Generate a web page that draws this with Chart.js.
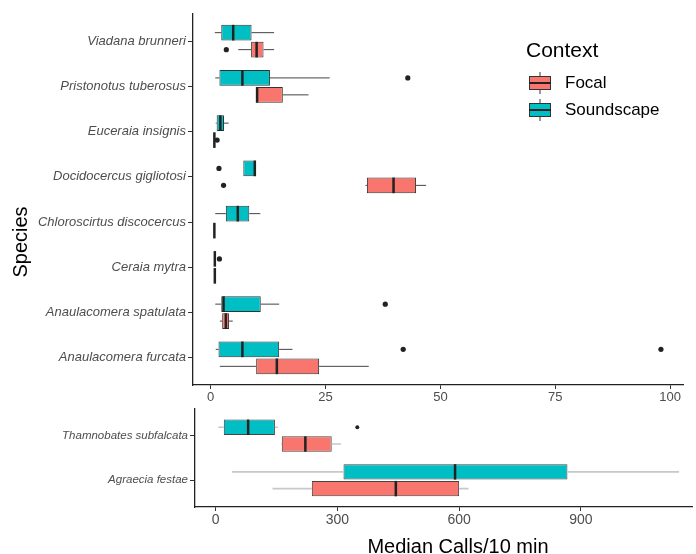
<!DOCTYPE html>
<html>
<head>
<meta charset="utf-8">
<script src="https://cdn.jsdelivr.net/npm/chart.js@4.4.1/dist/chart.umd.min.js"></script>
<style>
html, body { margin: 0; padding: 0; background: #fff; }
#wrap { position: relative; width: 696px; height: 554px; overflow: hidden; }
#topChart { position: absolute; left: 0; top: 0; }
#bottomChart { position: absolute; left: 0; top: 400px; }
</style>
</head>
<body>
<div id="wrap">
  <canvas id="topChart" width="696" height="405"></canvas>
  <canvas id="bottomChart" width="696" height="154"></canvas>
</div>
<script>
// Couleurs ggplot
const colors = {
    focal: '#F8766D',
    sound: '#00BFC4',
    ink: '#222222',
    label: '#4d4d4d'
};

// Panneau du haut
const topSpecies = ['Viadana brunneri', 'Pristonotus tuberosus', 'Euceraia insignis', 'Docidocercus gigliotosi',
    'Chloroscirtus discocercus', 'Ceraia mytra', 'Anaulacomera spatulata', 'Anaulacomera furcata'];
const topTicks = [0, 25, 50, 75, 100];

const topSoundLow = [0.9, 1.0, 1.1, 7.1, 1.0, 0.9, 1.0, 1.1];
const topSoundQ1 = [2.3, 1.9, 1.3, 7.1, 3.3, 0.9, 2.3, 1.7];
const topSoundMed = [4.9, 6.9, 2.1, 9.6, 5.9, 0.9, 2.8, 6.9];
const topSoundQ3 = [8.9, 12.9, 2.9, 9.9, 8.4, 0.9, 10.9, 14.9];
const topSoundHigh = [13.8, 25.9, 3.9, 9.9, 10.8, 0.9, 14.9, 17.8];
const topSoundOut = [[], [42.9], [], [1.8], [], [1.9], [38.0], [41.9, 98.0]];

const topFocalLow = [6.0, 9.9, 0.8, 33.7, 0.8, 0.9, 2.0, 2.0];
const topFocalQ1 = [8.8, 9.9, 0.8, 34.0, 0.8, 0.9, 2.5, 9.9];
const topFocalMed = [10.0, 10.1, 0.8, 39.8, 0.8, 0.9, 3.3, 14.4];
const topFocalQ3 = [11.5, 15.7, 0.8, 44.7, 0.8, 0.9, 4.0, 23.6];
const topFocalHigh = [13.8, 21.3, 0.8, 46.9, 0.8, 0.9, 4.8, 34.4];
const topFocalOut = [[3.4], [], [1.4], [2.8], [], [], [], []];

// Panneau du bas
const bottomSpecies = ['Thamnobates subfalcata', 'Agraecia festae'];
const bottomTicks = [0, 300, 600, 900];

const bottomSoundLow = [6, 40];
const bottomSoundQ1 = [20, 315];
const bottomSoundMed = [80, 590];
const bottomSoundQ3 = [146, 867];
const bottomSoundHigh = [153, 1142];
const bottomSoundOut = [[349], []];

const bottomFocalLow = [161, 140];
const bottomFocalQ1 = [163, 237];
const bottomFocalMed = [221, 444];
const bottomFocalQ3 = [286, 600];
const bottomFocalHigh = [309, 623];
const bottomFocalOut = [[], []];

Chart.defaults.font.family = "'Liberation Sans', Arial, sans-serif";

// Moustaches, médianes et points extrêmes
const boxPlotPlugin = {
    id: 'boxPlot',
    afterDatasetsDraw(chart, args, opts) {
        const ctx = chart.ctx;
        const xs = chart.scales.x;
        chart.data.datasets.forEach((ds, di) => {
            const meta = chart.getDatasetMeta(di);
            meta.data.forEach((bar, i) => {
                const yc = bar.y;
                const h = bar.height;
                const q1 = xs.getPixelForValue(ds.q1[i]);
                const q3 = xs.getPixelForValue(ds.q3[i]);
                const lo = xs.getPixelForValue(ds.low[i]);
                const hi = xs.getPixelForValue(ds.high[i]);
                const med = xs.getPixelForValue(ds.med[i]);
                ctx.save();
                ctx.strokeStyle = opts.whiskerColor;
                ctx.lineWidth = opts.whiskerWidth;
                ctx.beginPath();
                if (lo < q1) { ctx.moveTo(lo, yc); ctx.lineTo(q1, yc); }
                if (hi > q3) { ctx.moveTo(q3, yc); ctx.lineTo(hi, yc); }
                ctx.stroke();
                ctx.strokeStyle = colors.ink;
                ctx.lineWidth = 2.5;
                ctx.beginPath();
                ctx.moveTo(med, yc - h / 2);
                ctx.lineTo(med, yc + h / 2);
                ctx.stroke();
                ctx.fillStyle = colors.ink;
                ds.out[i].forEach(v => {
                    ctx.beginPath();
                    ctx.arc(xs.getPixelForValue(v), yc, opts.pointRadius, 0, Math.PI * 2);
                    ctx.fill();
                });
                ctx.restore();
            });
        });
    }
};

// Légende et titres
const decorPlugin = {
    id: 'decor',
    afterDraw(chart, args, opts) {
        const ctx = chart.ctx;
        ctx.save();
        ctx.fillStyle = '#000';
        ctx.textBaseline = 'middle';
        if (opts.legend) {
            ctx.font = "21px 'Liberation Sans', Arial";
            ctx.fillText('Context', 526, 51);
            const keys = [
                { label: 'Focal', color: colors.focal, y: 83 },
                { label: 'Soundscape', color: colors.sound, y: 110 }
            ];
            keys.forEach(k => {
                ctx.fillStyle = k.color;
                ctx.fillRect(529, k.y - 7, 22, 14);
                ctx.strokeStyle = '#333';
                ctx.lineWidth = 1;
                ctx.strokeRect(529.5, k.y - 6.5, 21, 13);
                ctx.beginPath();
                ctx.moveTo(540, k.y - 11); ctx.lineTo(540, k.y - 7);
                ctx.moveTo(540, k.y + 7); ctx.lineTo(540, k.y + 11);
                ctx.stroke();
                ctx.strokeStyle = colors.ink;
                ctx.lineWidth = 2;
                ctx.beginPath();
                ctx.moveTo(529, k.y); ctx.lineTo(551, k.y);
                ctx.stroke();
                ctx.fillStyle = '#000';
                ctx.font = "17px 'Liberation Sans', Arial";
                ctx.fillText(k.label, 565, k.y);
            });
            ctx.font = "20px 'Liberation Sans', Arial";
            ctx.translate(21, 242);
            ctx.rotate(-Math.PI / 2);
            ctx.textAlign = 'center';
            ctx.fillText('Species', 0, 0);
        }
        if (opts.xTitle) {
            ctx.font = "20px 'Liberation Sans', Arial";
            ctx.textAlign = 'center';
            ctx.fillText(opts.xTitle, 458, 147);
        }
        ctx.restore();
    }
};

function makeDataset(label, color, low, q1, med, q3, high, out, edge) {
    return {
        label: label,
        data: q1.map((v, i) => ({ y: i, x: [v, q3[i]] })),
        backgroundColor: color,
        borderColor: edge,
        borderWidth: 1,
        borderSkipped: false,
        low: low, q1: q1, med: med, q3: q3, high: high, out: out
    };
}

function makeChart(canvasId, names, ticks, xMin, xMax, datasets, layout, style) {
    return new Chart(document.getElementById(canvasId), {
        type: 'bar',
        data: { datasets: datasets },
        plugins: [boxPlotPlugin, decorPlugin],
        options: {
            responsive: false,
            animation: false,
            indexAxis: 'y',
            categoryPercentage: 0.75,
            barPercentage: 0.92,
            layout: { padding: layout.padding },
            plugins: {
                legend: { display: false },
                tooltip: { enabled: false },
                boxPlot: style.box,
                decor: style.decor
            },
            scales: {
                x: {
                    type: 'linear',
                    min: xMin,
                    max: xMax,
                    afterBuildTicks: s => { s.ticks = ticks.map(v => ({ value: v })); },
                    afterFit: s => { s.height = layout.xHeight; },
                    ticks: { color: colors.label, font: { size: style.xFont }, padding: 1, maxRotation: 0 },
                    grid: { drawOnChartArea: false, tickLength: 4, color: '#333' },
                    border: { color: colors.ink, width: 1.3 }
                },
                y: {
                    type: 'linear',
                    reverse: true,
                    offset: false,
                    min: -0.6,
                    max: names.length - 0.4,
                    afterBuildTicks: s => { s.ticks = names.map((_, i) => ({ value: i })); },
                    afterFit: s => { s.width = layout.yWidth; },
                    ticks: {
                        callback: v => names[v],
                        color: colors.label,
                        font: { size: style.yFont, style: 'italic' },
                        padding: 2,
                        autoSkip: false
                    },
                    grid: { offset: false, drawOnChartArea: false, tickLength: 5, color: '#333' },
                    border: { color: colors.ink, width: 1.3 }
                }
            }
        }
    });
}

makeChart('topChart', topSpecies, topTicks, -3.85, 102.8, [
    makeDataset('Soundscape', colors.sound, topSoundLow, topSoundQ1, topSoundMed, topSoundQ3, topSoundHigh, topSoundOut, '#333'),
    makeDataset('Focal', colors.focal, topFocalLow, topFocalQ1, topFocalMed, topFocalQ3, topFocalHigh, topFocalOut, '#333')
], { padding: { top: 14, right: 13, left: 0, bottom: 0 }, xHeight: 20, yWidth: 193 }, {
    box: { whiskerColor: '#444', whiskerWidth: 1, pointRadius: 2.6 },
    decor: { legend: true },
    xFont: 13, yFont: 13
});

makeChart('bottomChart', bottomSpecies, bottomTicks, -51, 1174, [
    makeDataset('Soundscape', colors.sound, bottomSoundLow, bottomSoundQ1, bottomSoundMed, bottomSoundQ3, bottomSoundHigh, bottomSoundOut, '#444'),
    makeDataset('Focal', colors.focal, bottomFocalLow, bottomFocalQ1, bottomFocalMed, bottomFocalQ3, bottomFocalHigh, bottomFocalOut, '#444')
], { padding: { top: 8, right: 4, left: 0, bottom: 0 }, xHeight: 47, yWidth: 195 }, {
    box: { whiskerColor: '#c8c8c8', whiskerWidth: 1.6, pointRadius: 2 },
    decor: { legend: false, xTitle: 'Median Calls/10 min' },
    xFont: 14, yFont: 11.5
});
</script>
</body>
</html>
